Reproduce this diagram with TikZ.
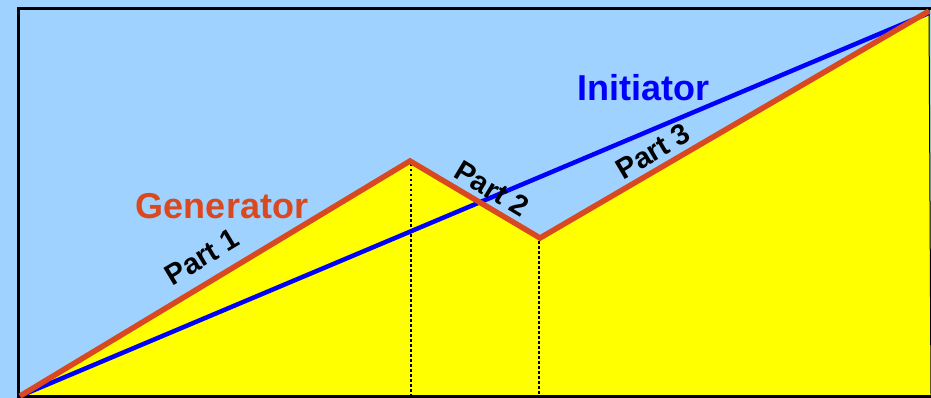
\documentclass[tikz,border=0pt]{standalone}
\usepackage{fontspec}
\setmainfont{Liberation Sans}
\definecolor{skyb}{HTML}{A0D2FF}
\definecolor{genred}{HTML}{D9481E}
\definecolor{initblue}{HTML}{0000FF}
\definecolor{fillyel}{HTML}{FFFF00}
\tikzset{
  genline/.style={draw=genred,line width=5.5pt,line join=miter,line cap=butt},
  initline/.style={draw=initblue,line width=4.5pt},
  dropline/.style={draw=black,line width=2.5pt,dash pattern=on 2.5pt off 2.5pt},
  partlabel/.style={font=\fontsize{29}{33}\selectfont\bfseries,text=black,inner sep=0pt},
  biglabel/.style={font=\fontsize{36}{42}\selectfont\bfseries,inner sep=0pt}
}
\begin{document}
\begin{tikzpicture}[x=1pt,y=-1pt]
\useasboundingbox (0,0) rectangle (931,398);
\fill[skyb] (0,0) rectangle (931,398);
\coordinate (a) at (20,396);
\coordinate (b) at (410,161);
\coordinate (c) at (540,238);
\coordinate (d) at (929,11);
\coordinate (br) at (931,396);
\fill[fillyel,draw=black,line width=1pt] (a) -- (b) -- (c) -- (d) -- (br) -- cycle;
\coordinate (bb) at (411,396);
\coordinate (cb) at (539,396);
\draw[dropline] (411,164) -- (bb);
\draw[dropline] (539,241) -- (cb);
\draw[black,line width=3.2pt] (940,8.5) -- (18.5,8.5) -- (18.5,396.5) -- (940,396.5);
\draw[initline] (a) -- (929,13);
\draw[genline] (a) -- (b) -- (c) -- (d);
\node[biglabel,text=genred] (gen) at (222,206) {Generator};
\node[biglabel,text=initblue] (ini) at (643,88) {Initiator};
\node[partlabel,rotate=31] (p1) at (202,257) {Part 1};
\node[partlabel,rotate=-31] (p2) at (492,189) {Part 2};
\node[partlabel,rotate=30.5] (p3) at (653,151) {Part 3};
\end{tikzpicture}
\end{document}
